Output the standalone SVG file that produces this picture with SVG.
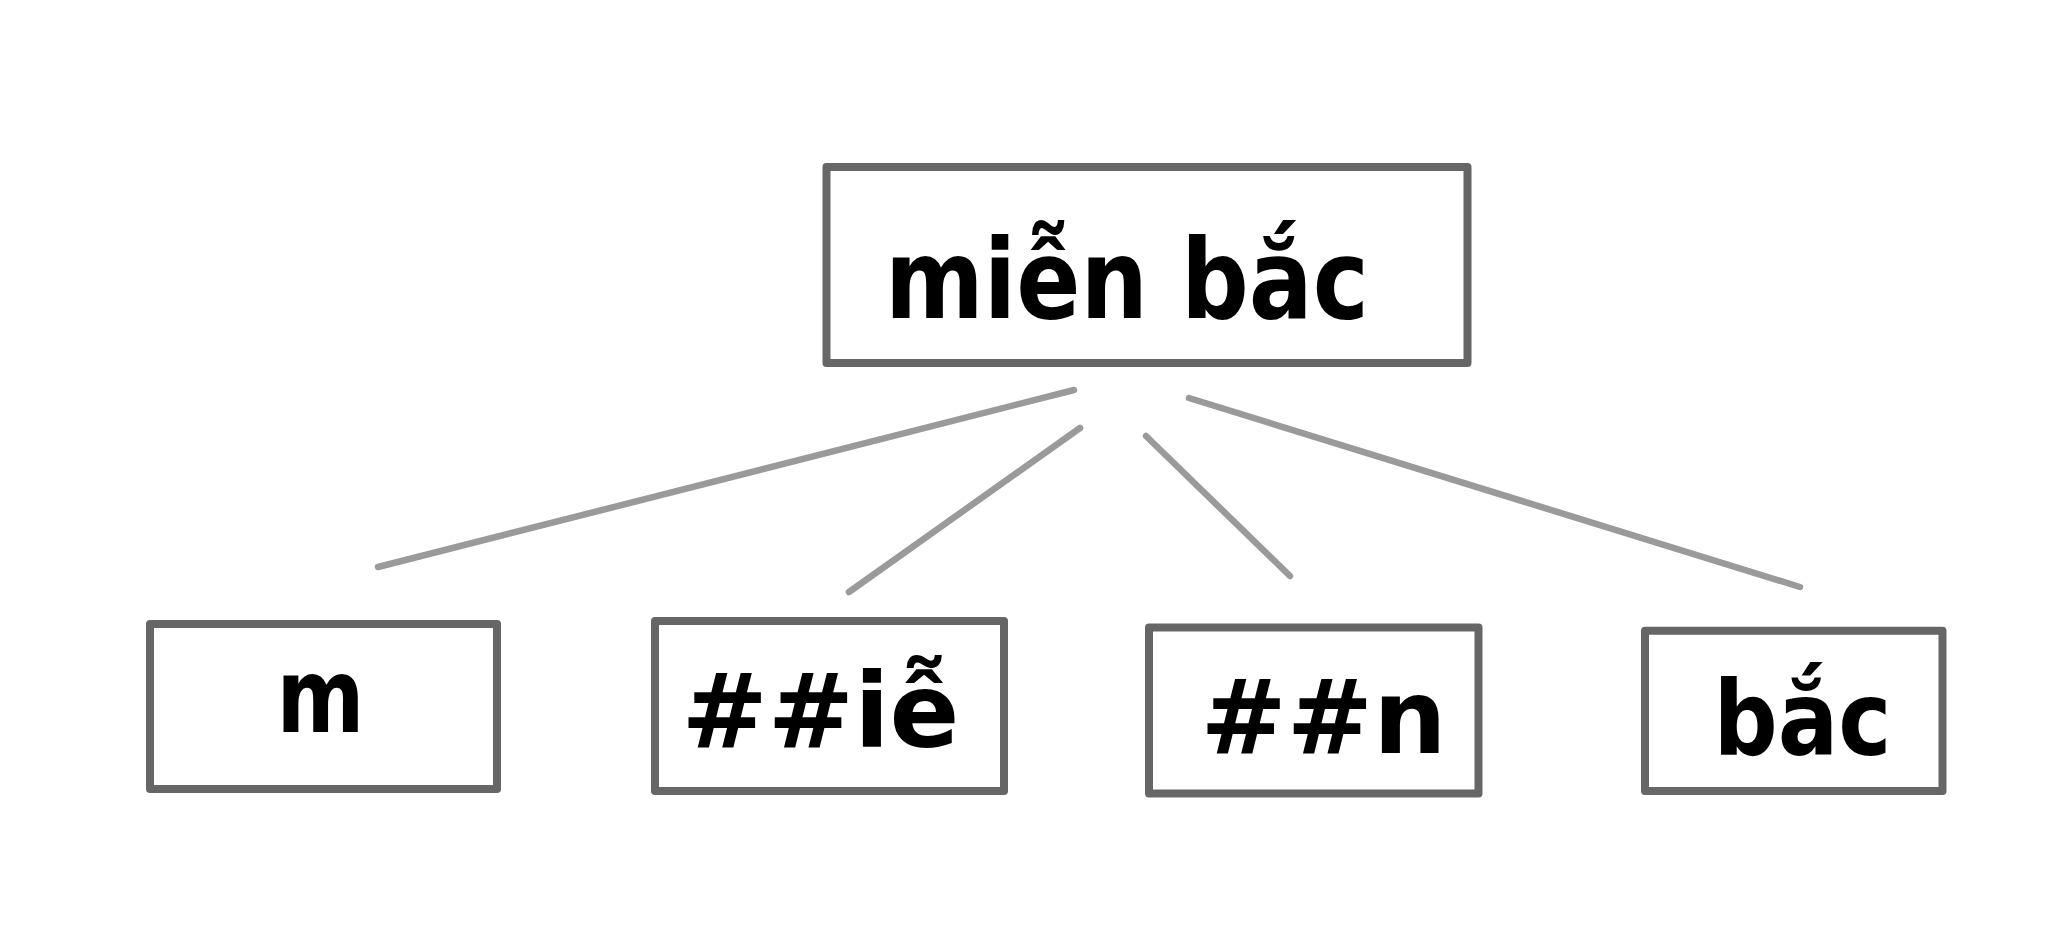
<svg xmlns="http://www.w3.org/2000/svg" width="2048" height="945" viewBox="0 0 2048 945">
<style>
.box{fill:#ffffff;stroke:#666666;stroke-width:8;stroke-linejoin:round}
.lbl{font-family:"DejaVu Sans","Liberation Sans",Arial,sans-serif;font-weight:bold;fill:#000000;text-anchor:middle}
.edge{stroke:#9a9a9a;stroke-width:6.5;stroke-linecap:round;fill:none}
</style>
<rect width="2048" height="945" fill="#ffffff"/>
<g id="connectors">
<line class="edge" x1="1074" y1="390" x2="378" y2="567"/>
<line class="edge" x1="1080" y1="428" x2="849" y2="592"/>
<line class="edge" x1="1146" y1="436" x2="1290" y2="576"/>
<line class="edge" x1="1189" y1="398" x2="1800" y2="587"/>
</g>
<g id="node-root">
<rect class="box" x="826.5" y="167" width="641" height="196"/>
<text class="lbl" x="1127" y="318" font-size="110" textLength="484" lengthAdjust="spacingAndGlyphs">miễn bắc</text>
</g>
<g id="node-m">
<rect class="box" x="150" y="624" width="347" height="165"/>
<text class="lbl" x="320.5" y="732" font-size="104" textLength="88" lengthAdjust="spacingAndGlyphs">m</text>
</g>
<g id="node-ie">
<rect class="box" x="655" y="621" width="349" height="170"/>
<text class="lbl" x="820.5" y="747" font-size="104" textLength="278" lengthAdjust="spacingAndGlyphs">##iễ</text>
</g>
<g id="node-n">
<rect class="box" x="1149" y="627.5" width="329.5" height="166"/>
<text class="lbl" x="1323.5" y="753" font-size="104" textLength="246" lengthAdjust="spacingAndGlyphs">##n</text>
</g>
<g id="node-bac">
<rect class="box" x="1645" y="630.7" width="297.5" height="160.3"/>
<text class="lbl" x="1802.5" y="755" font-size="104" textLength="178" lengthAdjust="spacingAndGlyphs">bắc</text>
</g>
</svg>
